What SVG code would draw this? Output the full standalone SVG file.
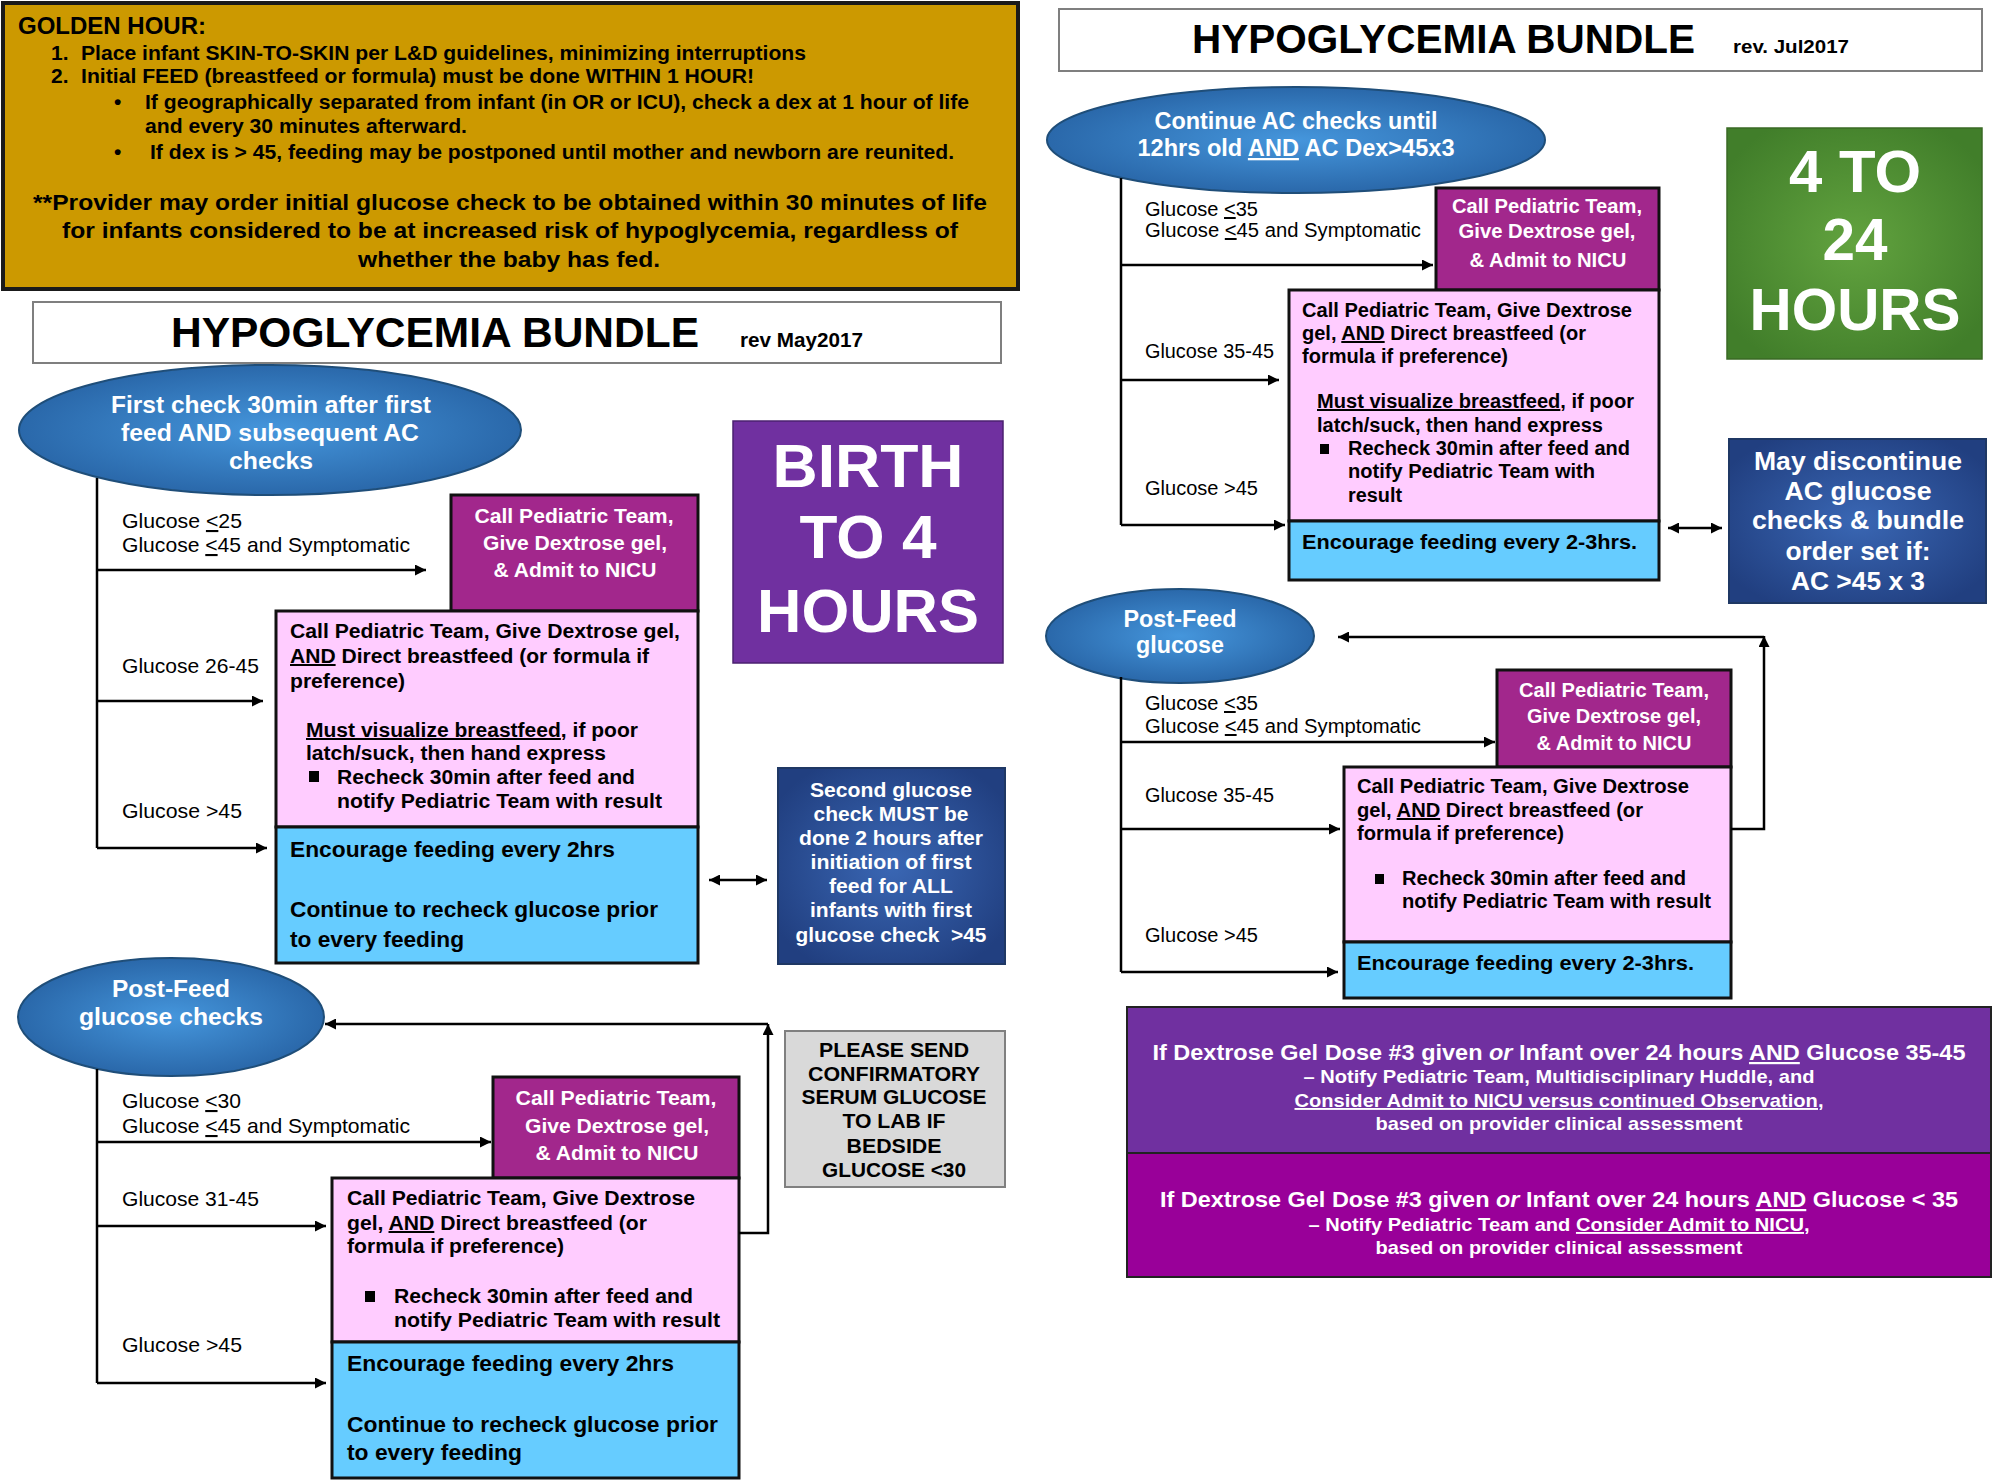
<svg xmlns="http://www.w3.org/2000/svg" width="1995" height="1481" viewBox="0 0 1995 1481">
<defs>
<style>
text{font-family:"Liberation Sans",Arial,sans-serif;fill:#000}
.b{font-weight:bold}
.w{fill:#fff}
.u{text-decoration:underline}
.i{font-style:italic}
.lbl{font-size:21px}
.lblr{font-size:20px}
.mag{fill:#A2278C;stroke:#111;stroke-width:3}
.pink{fill:#FFCCFF;stroke:#111;stroke-width:3}
.lb{fill:#66CCFF;stroke:#111;stroke-width:3}
.conn{fill:none;stroke:#000;stroke-width:2.5}
.m{font-size:20px;font-weight:bold;fill:#fff;text-anchor:middle}
.p{font-size:20px;font-weight:bold}
.c{text-anchor:middle}
.ell{fill:url(#gEll);stroke:#1f4e79;stroke-width:2}
.db{fill:url(#gDB);stroke:#1f3864;stroke-width:2}
.ttl{fill:#fff;stroke:#7f7f7f;stroke-width:2}
</style>
<radialGradient id="gEll" cx="50%" cy="50%" r="50%"><stop offset="0" stop-color="#4596dc"/><stop offset="1" stop-color="#2a68aa"/></radialGradient>
<radialGradient id="gDB" cx="50%" cy="50%" r="60%"><stop offset="0" stop-color="#3a67b4"/><stop offset="1" stop-color="#213f80"/></radialGradient>
<radialGradient id="gGr" cx="50%" cy="50%" r="60%"><stop offset="0" stop-color="#62a33f"/><stop offset="1" stop-color="#417e2a"/></radialGradient>
<marker id="ah" viewBox="0 0 10 10" refX="10" refY="5" markerWidth="11" markerHeight="11" markerUnits="userSpaceOnUse" orient="auto-start-reverse"><path d="M0,0 L10,5 L0,10 z" fill="#000"/></marker>
</defs>
<rect x="0" y="0" width="1995" height="1481" fill="#fff"/>

<g id="golden-hour">
<rect x="3" y="3" width="1015" height="286" fill="#CC9900" stroke="#1a1a1a" stroke-width="4"/>
<text x="18" y="34" class="b" font-size="24">GOLDEN HOUR:</text>
<text x="51" y="60" class="b" font-size="21">1.</text>
<text x="81" y="60" class="b" font-size="21" textLength="725" lengthAdjust="spacingAndGlyphs">Place infant SKIN-TO-SKIN per L&amp;D guidelines, minimizing interruptions</text>
<text x="51" y="83" class="b" font-size="21">2.</text>
<text x="81" y="83" class="b" font-size="21" textLength="673" lengthAdjust="spacingAndGlyphs">Initial FEED (breastfeed or formula) must be done WITHIN 1 HOUR!</text>
<text x="114" y="109" class="b" font-size="21">•</text>
<text x="145" y="109" class="b" font-size="21" textLength="824" lengthAdjust="spacingAndGlyphs">If geographically separated from infant (in OR or ICU), check a dex at 1 hour of life</text>
<text x="145" y="133" class="b" font-size="21" textLength="322" lengthAdjust="spacingAndGlyphs">and every 30 minutes afterward.</text>
<text x="114" y="159" class="b" font-size="21">•</text>
<text x="150" y="159" class="b" font-size="21" textLength="804" lengthAdjust="spacingAndGlyphs">If dex is &gt; 45, feeding may be postponed until mother and newborn are reunited.</text>
<text x="510" y="210" class="b c" font-size="22" textLength="954" lengthAdjust="spacingAndGlyphs">**Provider may order initial glucose check to be obtained within 30 minutes of life</text>
<text x="510" y="238" class="b c" font-size="22" textLength="896" lengthAdjust="spacingAndGlyphs">for infants considered to be at increased risk of hypoglycemia, regardless of</text>
<text x="509" y="267" class="b c" font-size="22" textLength="302" lengthAdjust="spacingAndGlyphs">whether the baby has fed.</text>
</g>

<g id="title-left">
<rect x="33" y="302" width="968" height="61" class="ttl"/>
<text x="171" y="347" class="b" font-size="42" textLength="528" lengthAdjust="spacingAndGlyphs">HYPOGLYCEMIA BUNDLE</text>
<text x="740" y="347" class="b" font-size="20" textLength="123" lengthAdjust="spacingAndGlyphs">rev May2017</text>
</g>

<g id="first-check">
<ellipse cx="270" cy="430" rx="251" ry="65" class="ell"/>
<text x="271" y="413" class="b w c" font-size="24" textLength="320" lengthAdjust="spacingAndGlyphs">First check 30min after first</text>
<text x="270" y="441" class="b w c" font-size="24" textLength="298" lengthAdjust="spacingAndGlyphs">feed AND subsequent AC</text>
<text x="271" y="469" class="b w c" font-size="24" textLength="84" lengthAdjust="spacingAndGlyphs">checks</text>
</g>

<g id="birth-to-4">
<rect x="733" y="421" width="270" height="242" fill="#7030A0" stroke="#4b2070" stroke-width="1.5"/>
<text x="868" y="487" class="b w c" font-size="62" textLength="191" lengthAdjust="spacingAndGlyphs">BIRTH</text>
<text x="868" y="558" class="b w c" font-size="62" textLength="137" lengthAdjust="spacingAndGlyphs">TO 4</text>
<text x="868" y="632" class="b w c" font-size="62" textLength="222" lengthAdjust="spacingAndGlyphs">HOURS</text>
</g>

<g id="labels-left-1">
<text x="122" y="528" class="lbl" textLength="120" lengthAdjust="spacingAndGlyphs">Glucose <tspan class="u">&lt;</tspan>25</text>
<text x="122" y="552" class="lbl" textLength="288" lengthAdjust="spacingAndGlyphs">Glucose <tspan class="u">&lt;</tspan>45 and Symptomatic</text>
<text x="122" y="673" class="lbl" textLength="137" lengthAdjust="spacingAndGlyphs">Glucose 26-45</text>
<text x="122" y="818" class="lbl" textLength="120" lengthAdjust="spacingAndGlyphs">Glucose &gt;45</text>
</g>

<g id="admit-nicu-1">
<rect x="451" y="495" width="247" height="116" class="mag"/>
<text x="574" y="523" class="m" textLength="199" lengthAdjust="spacingAndGlyphs">Call Pediatric Team,</text>
<text x="575" y="550" class="m" textLength="184" lengthAdjust="spacingAndGlyphs">Give Dextrose gel,</text>
<text x="575" y="577" class="m" textLength="163" lengthAdjust="spacingAndGlyphs">&amp; Admit to NICU</text>
</g>

<g id="dextrose-breastfeed-1">
<rect x="276" y="611" width="422" height="216" class="pink"/>
<text x="290" y="638" class="p" textLength="390" lengthAdjust="spacingAndGlyphs">Call Pediatric Team, Give Dextrose gel,</text>
<text x="290" y="663" class="p" textLength="359" lengthAdjust="spacingAndGlyphs"><tspan class="u">AND</tspan> Direct breastfeed (or formula if</text>
<text x="290" y="688" class="p" textLength="115" lengthAdjust="spacingAndGlyphs">preference)</text>
<text x="306" y="737" class="p" textLength="332" lengthAdjust="spacingAndGlyphs"><tspan class="u">Must visualize breastfeed</tspan>, if poor</text>
<text x="306" y="760" class="p" textLength="300" lengthAdjust="spacingAndGlyphs">latch/suck, then hand express</text>
<rect x="309" y="771" width="10" height="11" fill="#000"/>
<text x="337" y="784" class="p" textLength="298" lengthAdjust="spacingAndGlyphs">Recheck 30min after feed and</text>
<text x="337" y="808" class="p" textLength="325" lengthAdjust="spacingAndGlyphs">notify Pediatric Team with result</text>
</g>

<g id="encourage-feeding-1">
<rect x="276" y="827" width="422" height="136" class="lb"/>
<text x="290" y="857" class="b" font-size="22" textLength="325" lengthAdjust="spacingAndGlyphs">Encourage feeding every 2hrs</text>
<text x="290" y="917" class="b" font-size="22" textLength="368" lengthAdjust="spacingAndGlyphs">Continue to recheck glucose prior</text>
<text x="290" y="947" class="b" font-size="22" textLength="174" lengthAdjust="spacingAndGlyphs">to every feeding</text>
</g>

<g id="second-glucose">
<rect x="778" y="768" width="227" height="196" class="db"/>
<text x="891" y="797" class="m" textLength="162" lengthAdjust="spacingAndGlyphs">Second glucose</text>
<text x="891" y="821" class="m" textLength="155" lengthAdjust="spacingAndGlyphs">check MUST be</text>
<text x="891" y="845" class="m" textLength="184" lengthAdjust="spacingAndGlyphs">done 2 hours after</text>
<text x="891" y="869" class="m" textLength="161" lengthAdjust="spacingAndGlyphs">initiation of first</text>
<text x="891" y="893" class="m" textLength="124" lengthAdjust="spacingAndGlyphs">feed for ALL</text>
<text x="891" y="917" class="m" textLength="162" lengthAdjust="spacingAndGlyphs">infants with first</text>
<text x="891" y="942" class="m" textLength="191" lengthAdjust="spacingAndGlyphs" xml:space="preserve">glucose check  &gt;45</text>
</g>

<g id="post-feed-left">
<ellipse cx="171" cy="1017" rx="153" ry="59" class="ell"/>
<text x="171" y="997" class="b w c" font-size="24" textLength="118" lengthAdjust="spacingAndGlyphs">Post-Feed</text>
<text x="171" y="1025" class="b w c" font-size="24" textLength="184" lengthAdjust="spacingAndGlyphs">glucose checks</text>
</g>

<g id="labels-left-2">
<text x="122" y="1108" class="lbl" textLength="119" lengthAdjust="spacingAndGlyphs">Glucose <tspan class="u">&lt;</tspan>30</text>
<text x="122" y="1133" class="lbl" textLength="288" lengthAdjust="spacingAndGlyphs">Glucose <tspan class="u">&lt;</tspan>45 and Symptomatic</text>
<text x="122" y="1206" class="lbl" textLength="137" lengthAdjust="spacingAndGlyphs">Glucose 31-45</text>
<text x="122" y="1352" class="lbl" textLength="120" lengthAdjust="spacingAndGlyphs">Glucose &gt;45</text>
</g>

<g id="admit-nicu-2">
<rect x="493" y="1077" width="246" height="101" class="mag"/>
<text x="616" y="1105" class="m" textLength="201" lengthAdjust="spacingAndGlyphs">Call Pediatric Team,</text>
<text x="617" y="1133" class="m" textLength="184" lengthAdjust="spacingAndGlyphs">Give Dextrose gel,</text>
<text x="617" y="1160" class="m" textLength="163" lengthAdjust="spacingAndGlyphs">&amp; Admit to NICU</text>
</g>

<g id="dextrose-breastfeed-2">
<rect x="332" y="1178" width="407" height="164" class="pink"/>
<text x="347" y="1205" class="p" textLength="348" lengthAdjust="spacingAndGlyphs">Call Pediatric Team, Give Dextrose</text>
<text x="347" y="1230" class="p" textLength="300" lengthAdjust="spacingAndGlyphs">gel, <tspan class="u">AND</tspan> Direct breastfeed (or</text>
<text x="347" y="1253" class="p" textLength="217" lengthAdjust="spacingAndGlyphs">formula if preference)</text>
<rect x="365" y="1291" width="10" height="11" fill="#000"/>
<text x="394" y="1303" class="p" textLength="299" lengthAdjust="spacingAndGlyphs">Recheck 30min after feed and</text>
<text x="394" y="1327" class="p" textLength="326" lengthAdjust="spacingAndGlyphs">notify Pediatric Team with result</text>
</g>

<g id="encourage-feeding-2">
<rect x="332" y="1342" width="407" height="136" class="lb"/>
<text x="347" y="1371" class="b" font-size="22" textLength="327" lengthAdjust="spacingAndGlyphs">Encourage feeding every 2hrs</text>
<text x="347" y="1432" class="b" font-size="22" textLength="371" lengthAdjust="spacingAndGlyphs">Continue to recheck glucose prior</text>
<text x="347" y="1460" class="b" font-size="22" textLength="175" lengthAdjust="spacingAndGlyphs">to every feeding</text>
</g>

<g id="confirmatory-serum">
<rect x="785" y="1031" width="220" height="156" fill="#D9D9D9" stroke="#808080" stroke-width="2"/>
<text x="894" y="1057" class="b c" font-size="20" textLength="150" lengthAdjust="spacingAndGlyphs">PLEASE SEND</text>
<text x="894" y="1081" class="b c" font-size="20" textLength="172" lengthAdjust="spacingAndGlyphs">CONFIRMATORY</text>
<text x="894" y="1104" class="b c" font-size="20" textLength="185" lengthAdjust="spacingAndGlyphs">SERUM GLUCOSE</text>
<text x="894" y="1128" class="b c" font-size="20" textLength="103" lengthAdjust="spacingAndGlyphs">TO LAB IF</text>
<text x="894" y="1153" class="b c" font-size="20" textLength="95" lengthAdjust="spacingAndGlyphs">BEDSIDE</text>
<text x="894" y="1177" class="b c" font-size="20" textLength="144" lengthAdjust="spacingAndGlyphs">GLUCOSE &lt;30</text>
</g>

<g id="title-right">
<rect x="1059" y="9" width="923" height="62" class="ttl"/>
<text x="1192" y="53" class="b" font-size="40" textLength="503" lengthAdjust="spacingAndGlyphs">HYPOGLYCEMIA BUNDLE</text>
<text x="1733" y="53" class="b" font-size="19" textLength="116" lengthAdjust="spacingAndGlyphs">rev. Jul2017</text>
</g>

<g id="continue-ac">
<ellipse cx="1296" cy="140" rx="249" ry="53" class="ell"/>
<text x="1296" y="129" class="b w c" font-size="23" textLength="283" lengthAdjust="spacingAndGlyphs">Continue AC checks until</text>
<text x="1296" y="156" class="b w c" font-size="23" textLength="317" lengthAdjust="spacingAndGlyphs">12hrs old <tspan class="u">AND</tspan> AC Dex&gt;45x3</text>
</g>

<g id="four-to-24">
<rect x="1727" y="128" width="255" height="231" fill="url(#gGr)" stroke="#3a6a25" stroke-width="1.5"/>
<text x="1855" y="192" class="b w c" font-size="60" textLength="132" lengthAdjust="spacingAndGlyphs">4 TO</text>
<text x="1855" y="260" class="b w c" font-size="60" textLength="65" lengthAdjust="spacingAndGlyphs">24</text>
<text x="1855" y="330" class="b w c" font-size="60" textLength="211" lengthAdjust="spacingAndGlyphs">HOURS</text>
</g>

<g id="labels-right-1">
<text x="1145" y="216" class="lblr" textLength="113" lengthAdjust="spacingAndGlyphs">Glucose <tspan class="u">&lt;</tspan>35</text>
<text x="1145" y="237" class="lblr" textLength="276" lengthAdjust="spacingAndGlyphs">Glucose <tspan class="u">&lt;</tspan>45 and Symptomatic</text>
<text x="1145" y="358" class="lblr" textLength="129" lengthAdjust="spacingAndGlyphs">Glucose 35-45</text>
<text x="1145" y="495" class="lblr" textLength="113" lengthAdjust="spacingAndGlyphs">Glucose &gt;45</text>
</g>

<g id="admit-nicu-3">
<rect x="1436" y="188" width="223" height="102" class="mag"/>
<text x="1547" y="213" class="m" font-size="19" textLength="190" lengthAdjust="spacingAndGlyphs">Call Pediatric Team,</text>
<text x="1547" y="238" class="m" font-size="19" textLength="177" lengthAdjust="spacingAndGlyphs">Give Dextrose gel,</text>
<text x="1548" y="267" class="m" font-size="19" textLength="157" lengthAdjust="spacingAndGlyphs">&amp; Admit to NICU</text>
</g>

<g id="dextrose-breastfeed-3">
<rect x="1289" y="290" width="370" height="231" class="pink"/>
<text x="1302" y="317" class="p" font-size="19" textLength="330" lengthAdjust="spacingAndGlyphs">Call Pediatric Team, Give Dextrose</text>
<text x="1302" y="340" class="p" font-size="19" textLength="284" lengthAdjust="spacingAndGlyphs">gel, <tspan class="u">AND</tspan> Direct breastfeed (or</text>
<text x="1302" y="363" class="p" font-size="19" textLength="206" lengthAdjust="spacingAndGlyphs">formula if preference)</text>
<text x="1317" y="408" class="p" font-size="19" textLength="317" lengthAdjust="spacingAndGlyphs"><tspan class="u">Must visualize breastfeed</tspan>, if poor</text>
<text x="1317" y="432" class="p" font-size="19" textLength="286" lengthAdjust="spacingAndGlyphs">latch/suck, then hand express</text>
<rect x="1320" y="444" width="9" height="10" fill="#000"/>
<text x="1348" y="455" class="p" font-size="19" textLength="282" lengthAdjust="spacingAndGlyphs">Recheck 30min after feed and</text>
<text x="1348" y="478" class="p" font-size="19" textLength="247" lengthAdjust="spacingAndGlyphs">notify Pediatric Team with</text>
<text x="1348" y="502" class="p" font-size="19" textLength="54" lengthAdjust="spacingAndGlyphs">result</text>
</g>

<g id="encourage-feeding-3">
<rect x="1289" y="521" width="370" height="59" class="lb"/>
<text x="1302" y="549" class="b" font-size="21" textLength="335" lengthAdjust="spacingAndGlyphs">Encourage feeding every 2-3hrs.</text>
</g>

<g id="may-discontinue">
<rect x="1729" y="439" width="257" height="164" class="db"/>
<text x="1858" y="470" class="b w c" font-size="26" textLength="208" lengthAdjust="spacingAndGlyphs">May discontinue</text>
<text x="1858" y="500" class="b w c" font-size="26" textLength="147" lengthAdjust="spacingAndGlyphs">AC glucose</text>
<text x="1858" y="529" class="b w c" font-size="26" textLength="212" lengthAdjust="spacingAndGlyphs">checks &amp; bundle</text>
<text x="1858" y="560" class="b w c" font-size="26" textLength="145" lengthAdjust="spacingAndGlyphs">order set if:</text>
<text x="1858" y="590" class="b w c" font-size="26" textLength="134" lengthAdjust="spacingAndGlyphs">AC &gt;45 x 3</text>
</g>

<g id="post-feed-right">
<ellipse cx="1180" cy="636" rx="134" ry="47" class="ell"/>
<text x="1180" y="627" class="b w c" font-size="23" textLength="113" lengthAdjust="spacingAndGlyphs">Post-Feed</text>
<text x="1180" y="653" class="b w c" font-size="23" textLength="88" lengthAdjust="spacingAndGlyphs">glucose</text>
</g>

<g id="labels-right-2">
<text x="1145" y="710" class="lblr" textLength="113" lengthAdjust="spacingAndGlyphs">Glucose <tspan class="u">&lt;</tspan>35</text>
<text x="1145" y="733" class="lblr" textLength="276" lengthAdjust="spacingAndGlyphs">Glucose <tspan class="u">&lt;</tspan>45 and Symptomatic</text>
<text x="1145" y="802" class="lblr" textLength="129" lengthAdjust="spacingAndGlyphs">Glucose 35-45</text>
<text x="1145" y="942" class="lblr" textLength="113" lengthAdjust="spacingAndGlyphs">Glucose &gt;45</text>
</g>

<g id="admit-nicu-4">
<rect x="1497" y="670" width="234" height="97" class="mag"/>
<text x="1614" y="697" class="m" font-size="19" textLength="190" lengthAdjust="spacingAndGlyphs">Call Pediatric Team,</text>
<text x="1614" y="723" class="m" font-size="19" textLength="174" lengthAdjust="spacingAndGlyphs">Give Dextrose gel,</text>
<text x="1614" y="750" class="m" font-size="19" textLength="155" lengthAdjust="spacingAndGlyphs">&amp; Admit to NICU</text>
</g>

<g id="dextrose-breastfeed-4">
<rect x="1344" y="767" width="387" height="175" class="pink"/>
<text x="1357" y="793" class="p" font-size="19" textLength="332" lengthAdjust="spacingAndGlyphs">Call Pediatric Team, Give Dextrose</text>
<text x="1357" y="817" class="p" font-size="19" textLength="286" lengthAdjust="spacingAndGlyphs">gel, <tspan class="u">AND</tspan> Direct breastfeed (or</text>
<text x="1357" y="840" class="p" font-size="19" textLength="207" lengthAdjust="spacingAndGlyphs">formula if preference)</text>
<rect x="1375" y="874" width="9" height="10" fill="#000"/>
<text x="1402" y="885" class="p" font-size="19" textLength="284" lengthAdjust="spacingAndGlyphs">Recheck 30min after feed and</text>
<text x="1402" y="908" class="p" font-size="19" textLength="309" lengthAdjust="spacingAndGlyphs">notify Pediatric Team with result</text>
</g>

<g id="encourage-feeding-4">
<rect x="1344" y="942" width="387" height="56" class="lb"/>
<text x="1357" y="970" class="b" font-size="21" textLength="337" lengthAdjust="spacingAndGlyphs">Encourage feeding every 2-3hrs.</text>
</g>

<g id="gel-dose-35-45">
<rect x="1127" y="1007" width="864" height="146" fill="#7030A0" stroke="#222" stroke-width="2"/>
<text x="1559" y="1060" class="b w c" font-size="22" textLength="813" lengthAdjust="spacingAndGlyphs">If Dextrose Gel Dose #3 given <tspan class="i">or</tspan> Infant over 24 hours <tspan class="u">AND</tspan> Glucose 35-45</text>
<text x="1559" y="1083" class="b w c" font-size="19" textLength="511" lengthAdjust="spacingAndGlyphs">– Notify Pediatric Team, Multidisciplinary Huddle, and</text>
<text x="1559" y="1107" class="b w c u" font-size="19" textLength="529" lengthAdjust="spacingAndGlyphs">Consider Admit to NICU versus continued Observation,</text>
<text x="1559" y="1130" class="b w c" font-size="19" textLength="367" lengthAdjust="spacingAndGlyphs">based on provider clinical assessment</text>
</g>

<g id="gel-dose-lt-35">
<rect x="1127" y="1153" width="864" height="124" fill="#990099" stroke="#222" stroke-width="2"/>
<text x="1559" y="1207" class="b w c" font-size="22" textLength="798" lengthAdjust="spacingAndGlyphs">If Dextrose Gel Dose #3 given <tspan class="i">or</tspan> Infant over 24 hours <tspan class="u">AND</tspan> Glucose &lt; 35</text>
<text x="1559" y="1231" class="b w c" font-size="19" textLength="501" lengthAdjust="spacingAndGlyphs">– Notify Pediatric Team and <tspan class="u">Consider Admit to NICU,</tspan></text>
<text x="1559" y="1254" class="b w c" font-size="19" textLength="367" lengthAdjust="spacingAndGlyphs">based on provider clinical assessment</text>
</g>

<g id="connectors">
<path class="conn" d="M97,478 V848"/>
<path class="conn" d="M97,570 H426" marker-end="url(#ah)"/>
<path class="conn" d="M97,701 H263" marker-end="url(#ah)"/>
<path class="conn" d="M97,848 H267" marker-end="url(#ah)"/>
<path class="conn" d="M709,880 H767" marker-start="url(#ah)" marker-end="url(#ah)"/>
<path class="conn" d="M97,1069 V1383"/>
<path class="conn" d="M97,1142 H491" marker-end="url(#ah)"/>
<path class="conn" d="M97,1226 H326" marker-end="url(#ah)"/>
<path class="conn" d="M97,1383 H326" marker-end="url(#ah)"/>
<path class="conn" d="M739,1233 H768 V1024" marker-end="url(#ah)"/>
<path class="conn" d="M768,1024 H325" marker-end="url(#ah)"/>
<path class="conn" d="M1121,178 V525"/>
<path class="conn" d="M1121,265 H1433" marker-end="url(#ah)"/>
<path class="conn" d="M1121,380 H1279" marker-end="url(#ah)"/>
<path class="conn" d="M1121,525 H1285" marker-end="url(#ah)"/>
<path class="conn" d="M1668,528 H1722" marker-start="url(#ah)" marker-end="url(#ah)"/>
<path class="conn" d="M1121,677 V972"/>
<path class="conn" d="M1121,742 H1495" marker-end="url(#ah)"/>
<path class="conn" d="M1121,829 H1340" marker-end="url(#ah)"/>
<path class="conn" d="M1121,972 H1338" marker-end="url(#ah)"/>
<path class="conn" d="M1731,829 H1764 V636" marker-end="url(#ah)"/>
<path class="conn" d="M1764,637 H1338" marker-end="url(#ah)"/>
</g>
</svg>
